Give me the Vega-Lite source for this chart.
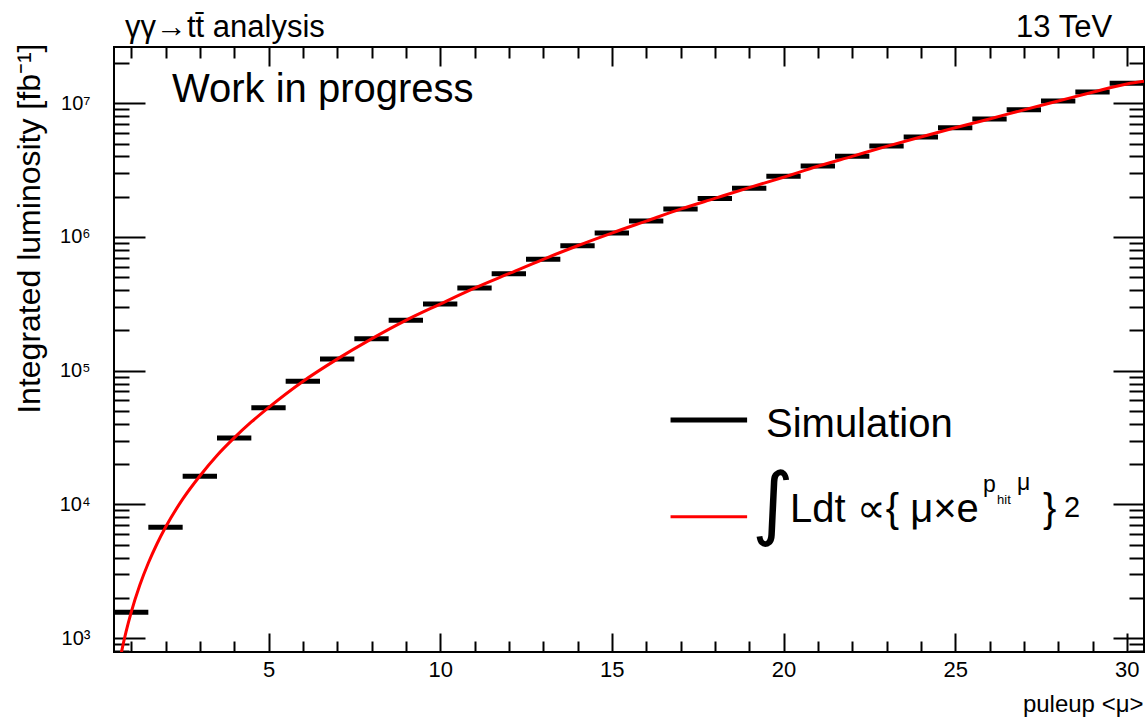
{
  "$schema": "https://vega.github.io/schema/vega-lite/v6.json",
  "width": 1030,
  "height": 605,
  "autosize": {"type": "none"},
  "padding": {"left": 114, "top": 47, "right": 1, "bottom": 65},
  "background": "white",
  "config": {
    "view": {"stroke": "black", "strokeWidth": 2},
    "font": "Liberation Sans",
    "axis": {
      "grid": false,
      "domain": false,
      "tickColor": "black",
      "tickWidth": 2,
      "labelColor": "black",
      "titleColor": "black",
      "labelFont": "Liberation Sans",
      "titleFont": "Liberation Sans",
      "titleFontWeight": "normal",
      "labelOverlap": false
    }
  },
  "datasets": {
    "simulation": [
      {"lo": 0.5, "hi": 1.5, "lumi": 1557},
      {"lo": 1.5, "hi": 2.5, "lumi": 6730},
      {"lo": 2.5, "hi": 3.5, "lumi": 16210},
      {"lo": 3.5, "hi": 4.5, "lumi": 31350},
      {"lo": 4.5, "hi": 5.5, "lumi": 52830},
      {"lo": 5.5, "hi": 6.5, "lumi": 83240},
      {"lo": 6.5, "hi": 7.5, "lumi": 122300},
      {"lo": 7.5, "hi": 8.5, "lumi": 173400},
      {"lo": 8.5, "hi": 9.5, "lumi": 238200},
      {"lo": 9.5, "hi": 10.5, "lumi": 315200},
      {"lo": 10.5, "hi": 11.5, "lumi": 415300},
      {"lo": 11.5, "hi": 12.5, "lumi": 531400},
      {"lo": 12.5, "hi": 13.5, "lumi": 681000},
      {"lo": 13.5, "hi": 14.5, "lumi": 860700},
      {"lo": 14.5, "hi": 15.5, "lumi": 1071000},
      {"lo": 15.5, "hi": 16.5, "lumi": 1317000},
      {"lo": 16.5, "hi": 17.5, "lumi": 1620000},
      {"lo": 17.5, "hi": 18.5, "lumi": 1940000},
      {"lo": 18.5, "hi": 19.5, "lumi": 2313000},
      {"lo": 19.5, "hi": 20.5, "lumi": 2844000},
      {"lo": 20.5, "hi": 21.5, "lumi": 3396000},
      {"lo": 21.5, "hi": 22.5, "lumi": 4015000},
      {"lo": 22.5, "hi": 23.5, "lumi": 4794000},
      {"lo": 23.5, "hi": 24.5, "lumi": 5598000},
      {"lo": 24.5, "hi": 25.5, "lumi": 6570000},
      {"lo": 25.5, "hi": 26.5, "lumi": 7632000},
      {"lo": 26.5, "hi": 27.5, "lumi": 8960000},
      {"lo": 27.5, "hi": 28.5, "lumi": 10400000},
      {"lo": 28.5, "hi": 29.5, "lumi": 12150000},
      {"lo": 29.5, "hi": 30.5, "lumi": 14120000}
    ],
    "fit": [
      {"mu": 0.65, "lumi": 640},
      {"mu": 0.75, "lumi": 858},
      {"mu": 0.85, "lumi": 1111},
      {"mu": 1.0, "lumi": 1556},
      {"mu": 1.25, "lumi": 2480},
      {"mu": 1.5, "lumi": 3640},
      {"mu": 1.75, "lumi": 5050},
      {"mu": 2.0, "lumi": 6730},
      {"mu": 2.5, "lumi": 10940},
      {"mu": 3.0, "lumi": 16300},
      {"mu": 3.5, "lumi": 23200},
      {"mu": 4.0, "lumi": 31400},
      {"mu": 4.5, "lumi": 41300},
      {"mu": 5, "lumi": 52900},
      {"mu": 6, "lumi": 83000},
      {"mu": 7, "lumi": 122000},
      {"mu": 8, "lumi": 173000},
      {"mu": 9, "lumi": 238000},
      {"mu": 10, "lumi": 315000},
      {"mu": 11, "lumi": 414000},
      {"mu": 12, "lumi": 531000},
      {"mu": 13, "lumi": 680000},
      {"mu": 14, "lumi": 860000},
      {"mu": 15, "lumi": 1070000},
      {"mu": 16, "lumi": 1315000},
      {"mu": 17, "lumi": 1615000},
      {"mu": 18, "lumi": 1945000},
      {"mu": 19, "lumi": 2340000},
      {"mu": 20, "lumi": 2800000},
      {"mu": 21, "lumi": 3380000},
      {"mu": 22, "lumi": 4010000},
      {"mu": 23, "lumi": 4760000},
      {"mu": 24, "lumi": 5600000},
      {"mu": 25, "lumi": 6560000},
      {"mu": 26, "lumi": 7640000},
      {"mu": 27, "lumi": 8930000},
      {"mu": 28, "lumi": 10400000},
      {"mu": 29, "lumi": 12100000},
      {"mu": 30, "lumi": 13950000},
      {"mu": 30.5, "lumi": 14600000}
    ]
  },
  "resolve": {"axis": {"x": "independent", "y": "independent"}},
  "layer": [
    {
      "data": {"name": "simulation"},
      "mark": {"type": "rule", "color": "black", "strokeWidth": 5, "strokeCap": "butt"},
      "encoding": {
        "x": {
          "field": "lo",
          "type": "quantitative",
          "scale": {"domain": [0.5, 30.5], "nice": false, "zero": false},
          "axis": {
            "orient": "bottom",
            "values": [1,2,3,4,5,6,7,8,9,10,11,12,13,14,15,16,17,18,19,20,21,22,23,24,25,26,27,28,29,30],
            "tickSize": {"condition": {"test": "datum.value % 5 === 0", "value": -19}, "value": -11},
            "labelExpr": "datum.value % 5 === 0 ? datum.label : ''",
            "labelPadding": 26,
            "labelFontSize": 22,
            "title": "puleup <μ>",
            "titleFontSize": 24,
            "titleAlign": "right",
            "titleBaseline": "alphabetic",
            "titleX": 1029,
            "titleY": 59
          }
        },
        "x2": {"field": "hi"},
        "y": {
          "field": "lumi",
          "type": "quantitative",
          "scale": {"type": "log", "domain": [786, 26370000], "nice": false},
          "axis": {
            "orient": "left",
            "values": [800,900,1000,2000,3000,4000,5000,6000,7000,8000,9000,10000,20000,30000,40000,50000,60000,70000,80000,90000,100000,200000,300000,400000,500000,600000,700000,800000,900000,1000000,2000000,3000000,4000000,5000000,6000000,7000000,8000000,9000000,10000000,20000000],
            "tickSize": {"condition": {"test": "indexof([1000,10000,100000,1000000,10000000], datum.value) >= 0", "value": -31}, "value": -15},
            "labelExpr": "indexof([1000,10000,100000,1000000,10000000], datum.value) >= 0 ? '10' + ['⁰','¹','²','³','⁴','⁵','⁶','⁷','⁸','⁹'][round(log(datum.value) / LN10)] : ''",
            "labelPadding": 55,
            "labelFontSize": 20,
            "title": "Integrated luminosity [fb⁻¹]",
            "titleFontSize": 32,
            "titleAngle": -90,
            "titleAlign": "right",
            "titleBaseline": "alphabetic",
            "titleX": -75,
            "titleY": -4
          }
        }
      }
    },
    {
      "data": {"name": "fit"},
      "mark": {"type": "line", "color": "#ff0000", "strokeWidth": 3, "interpolate": "monotone", "clip": true},
      "encoding": {
        "x": {
          "field": "mu",
          "type": "quantitative",
          "scale": {"domain": [0.5, 30.5], "nice": false, "zero": false},
          "axis": {
            "orient": "top",
            "values": [1,2,3,4,5,6,7,8,9,10,11,12,13,14,15,16,17,18,19,20,21,22,23,24,25,26,27,28,29,30],
            "tickSize": {"condition": {"test": "datum.value % 5 === 0", "value": -19}, "value": -11},
            "labels": false,
            "title": null
          }
        },
        "y": {
          "field": "lumi",
          "type": "quantitative",
          "scale": {"type": "log", "domain": [786, 26370000], "nice": false},
          "axis": {
            "orient": "right",
            "values": [800,900,1000,2000,3000,4000,5000,6000,7000,8000,9000,10000,20000,30000,40000,50000,60000,70000,80000,90000,100000,200000,300000,400000,500000,600000,700000,800000,900000,1000000,2000000,3000000,4000000,5000000,6000000,7000000,8000000,9000000,10000000,20000000],
            "tickSize": {"condition": {"test": "indexof([1000,10000,100000,1000000,10000000], datum.value) >= 0", "value": -31}, "value": -15},
            "labels": false,
            "title": null
          }
        }
      }
    },
    {
      "data": {"values": [{"lo": 16.71, "hi": 18.94, "lumi": 42740}]},
      "mark": {"type": "rule", "color": "black", "strokeWidth": 5, "strokeCap": "butt"},
      "encoding": {
        "x": {"field": "lo", "type": "quantitative", "axis": null},
        "x2": {"field": "hi"},
        "y": {"field": "lumi", "type": "quantitative", "axis": null}
      }
    },
    {
      "data": {"values": [{"lo": 16.71, "hi": 18.94, "lumi": 8080}]},
      "mark": {"type": "rule", "color": "#ff0000", "strokeWidth": 3, "strokeCap": "butt"},
      "encoding": {
        "x": {"field": "lo", "type": "quantitative", "axis": null},
        "x2": {"field": "hi"},
        "y": {"field": "lumi", "type": "quantitative", "axis": null}
      }
    },
    {
      "data": {"values": [
        {"label": "Work in progress", "mu": 2.19, "lumi": 10290000},
        {"label": "Simulation", "mu": 19.49, "lumi": 31740},
        {"label": "Ldt ∝{ μ×e", "mu": 20.19, "lumi": 7413}
      ]},
      "mark": {"type": "text", "align": "left", "baseline": "alphabetic", "fontSize": 40, "color": "black"},
      "encoding": {
        "x": {"field": "mu", "type": "quantitative", "axis": null},
        "y": {"field": "lumi", "type": "quantitative", "axis": null},
        "text": {"field": "label"}
      }
    },
    {
      "data": {"values": [{"label": "∫", "mu": 19.08, "lumi": 6427}]},
      "mark": {"type": "text", "align": "left", "baseline": "alphabetic", "font": "DejaVu Sans", "fontSize": 80, "color": "black"},
      "encoding": {
        "x": {"field": "mu", "type": "quantitative", "axis": null},
        "y": {"field": "lumi", "type": "quantitative", "axis": null},
        "text": {"field": "label"}
      }
    },
    {
      "data": {"values": [
        {"label": "p", "mu": 25.81, "lumi": 12370},
        {"label": "μ", "mu": 26.8, "lumi": 12800}
      ]},
      "mark": {"type": "text", "align": "left", "baseline": "alphabetic", "fontSize": 23, "color": "black"},
      "encoding": {
        "x": {"field": "mu", "type": "quantitative", "axis": null},
        "y": {"field": "lumi", "type": "quantitative", "axis": null},
        "text": {"field": "label"}
      }
    },
    {
      "data": {"values": [{"label": "hit", "mu": 26.22, "lumi": 10057}]},
      "mark": {"type": "text", "align": "left", "baseline": "alphabetic", "fontSize": 13, "color": "black"},
      "encoding": {
        "x": {"field": "mu", "type": "quantitative", "axis": null},
        "y": {"field": "lumi", "type": "quantitative", "axis": null},
        "text": {"field": "label"}
      }
    },
    {
      "data": {"values": [{"label": "}", "mu": 27.56, "lumi": 7413}]},
      "mark": {"type": "text", "align": "left", "baseline": "alphabetic", "fontSize": 40, "color": "black"},
      "encoding": {
        "x": {"field": "mu", "type": "quantitative", "axis": null},
        "y": {"field": "lumi", "type": "quantitative", "axis": null},
        "text": {"field": "label"}
      }
    },
    {
      "data": {"values": [{"label": "2", "mu": 28.17, "lumi": 8000}]},
      "mark": {"type": "text", "align": "left", "baseline": "alphabetic", "fontSize": 29, "color": "black"},
      "encoding": {
        "x": {"field": "mu", "type": "quantitative", "axis": null},
        "y": {"field": "lumi", "type": "quantitative", "axis": null},
        "text": {"field": "label"}
      }
    },
    {
      "data": {"values": [{"label": "γγ→tt̄ analysis", "mu": 0.82, "lumi": 31350000}]},
      "mark": {"type": "text", "align": "left", "baseline": "alphabetic", "fontSize": 31, "color": "black"},
      "encoding": {
        "x": {"field": "mu", "type": "quantitative", "axis": null},
        "y": {"field": "lumi", "type": "quantitative", "axis": null},
        "text": {"field": "label"}
      }
    },
    {
      "data": {"values": [{"label": "13 TeV", "mu": 29.57, "lumi": 31350000}]},
      "mark": {"type": "text", "align": "right", "baseline": "alphabetic", "fontSize": 31, "color": "black"},
      "encoding": {
        "x": {"field": "mu", "type": "quantitative", "axis": null},
        "y": {"field": "lumi", "type": "quantitative", "axis": null},
        "text": {"field": "label"}
      }
    }
  ]
}
